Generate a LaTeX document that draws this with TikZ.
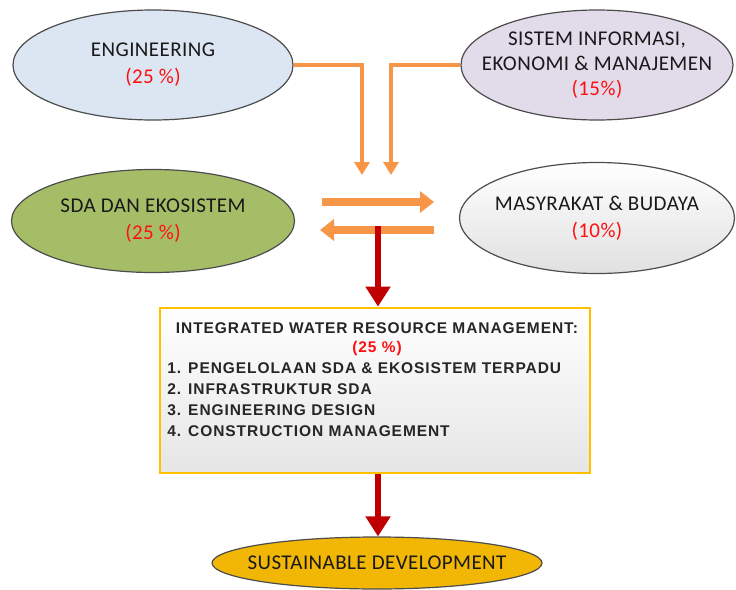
\documentclass[tikz,border=0pt]{standalone}
\usepackage{fontspec}
\setmainfont{Carlito}
\newfontfamily\fieldfont[LetterSpace=2]{Carlito}
\newfontfamily\boxfont[LetterSpace=6]{Liberation Sans}
\usepackage{tikz}
\usetikzlibrary{arrows.meta}
\usetikzlibrary{positioning}
\usetikzlibrary{shapes.geometric}
\definecolor{engblue}{HTML}{DCE6F2}
\definecolor{silav}{HTML}{E1DBEA}
\definecolor{sdagreen}{HTML}{A6BD68}
\definecolor{susgold}{HTML}{F2B705}
\definecolor{arrorange}{HTML}{F79646}
\definecolor{arrred}{HTML}{C00000}
\definecolor{boxyellow}{HTML}{FFC000}
\definecolor{pctred}{HTML}{FF1010}

\begin{document}
\begin{tikzpicture}[x=1pt,y=-1pt,thick,>=Stealth,
    field/.style={ellipse,draw=black!70,line width=1.2pt,inner xsep=-40pt,inner ysep=-10pt,align=center,
      font=\fieldfont\fontsize{21}{27}\selectfont,text=black!90},
    boxtext/.style={font=\boxfont\fontsize{15.5}{18}\selectfont\bfseries,text=black!85,inner sep=0pt},
    orangearrow/.style={draw=arrorange,line width=4.5pt,-{Triangle[width=15pt,length=13pt]}},
    swaparrow/.style={draw=arrorange,line width=8pt,-{Triangle[width=21pt,length=14pt]}},
    redarrow/.style={draw=arrred,line width=6.5pt,-{Triangle[width=24pt,length=20pt]}}]
    \useasboundingbox (0,0) rectangle (736,589);

    \node[field,fill=engblue,minimum width=280pt,minimum height=110pt] (eng) at (153,65)
      {ENGINEERING\\\textcolor{pctred}{(25 \%)}};
    \node[field,fill=silav,minimum width=272pt,minimum height=110pt,font=\fieldfont\fontsize{21}{25}\selectfont] (sim) at (597,65)
      {SISTEM INFORMASI,\\EKONOMI \& MANAJEMEN\\\textcolor{pctred}{(15\%)}};
    \node[field,fill=sdagreen,minimum width=283pt,minimum height=103pt] (sda) at (153,221)
      {SDA DAN EKOSISTEM\\\textcolor{pctred}{(25 \%)}};
    \node[field,top color=white,bottom color=black!12,minimum width=275pt,minimum height=111pt] (masy) at (597,218)
      {MASYRAKAT \& BUDAYA\\\textcolor{pctred}{(10\%)}};

    \coordinate (engin) at (362,175);
    \coordinate (simin) at (391,175);
    \coordinate (toright) at (322,202);
    \coordinate (torightend) at (434,202);
    \coordinate (toleft) at (434,230);
    \coordinate (toleftend) at (320,230);
    \coordinate (down) at (378,226);

    \draw[orangearrow] (eng.east) -| (engin);
    \draw[orangearrow] (sim.west) -| (simin);
    \draw[swaparrow] (toright) -- (torightend);
    \draw[swaparrow] (toleft) -- (toleftend);

    \node[draw=boxyellow,line width=2.8pt,top color=white,bottom color=black!10,
      minimum width=430pt,minimum height=165pt] (iwrm) at (375,390.5) {};
    \node[boxtext] (title) at (377,328) {INTEGRATED WATER RESOURCE MANAGEMENT:};
    \node[boxtext,text=pctred] (iwrmpct) at (377,348) {(25 \%)};
    \node[boxtext,anchor=west] (item1) at (167,368) {1. PENGELOLAAN SDA \& EKOSISTEM TERPADU};
    \node[boxtext,anchor=west] (item2) at (167,389) {2. INFRASTRUKTUR SDA};
    \node[boxtext,anchor=west] (item3) at (167,410) {3. ENGINEERING DESIGN};
    \node[boxtext,anchor=west] (item4) at (167,431) {4. CONSTRUCTION MANAGEMENT};

    \node[field,fill=susgold,minimum width=330pt,minimum height=52pt] (sus) at (377,563)
      {SUSTAINABLE DEVELOPMENT};

    \draw[redarrow] (down) -- (down |- iwrm.north);
    \draw[redarrow] (iwrm.south -| down) -- (down |- sus.north);
  \end{tikzpicture}
\end{document}
